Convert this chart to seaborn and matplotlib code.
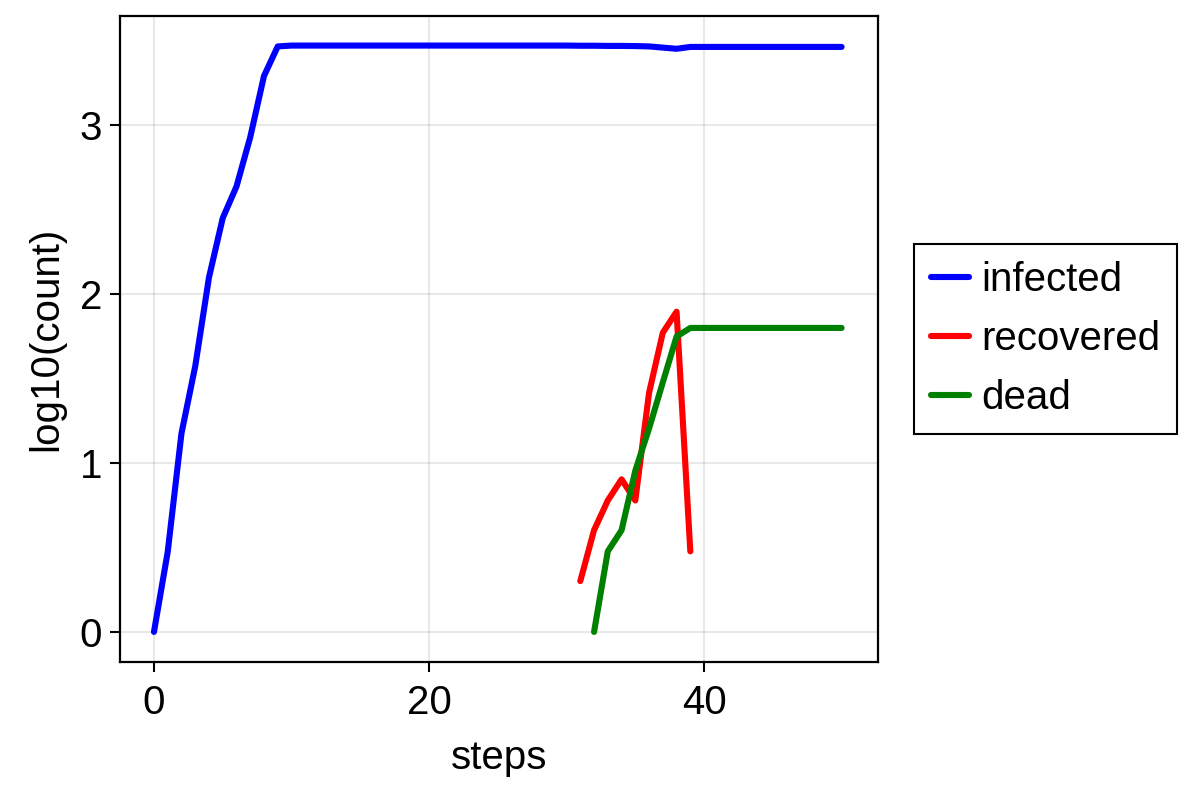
import numpy as np
import pandas as pd
import matplotlib
matplotlib.use("Agg")
import matplotlib.pyplot as plt
import seaborn as sns

# log10 of counts
infected_steps = list(range(0, 51))
infected = [0.0, 0.474, 1.175, 1.572, 2.098, 2.449, 2.636, 2.928, 3.29, 3.465,
            3.470, 3.470, 3.470, 3.470, 3.470, 3.470, 3.470, 3.470, 3.470, 3.470,
            3.470, 3.470, 3.470, 3.470, 3.470, 3.470, 3.470, 3.470, 3.470, 3.470,
            3.470, 3.469, 3.469, 3.468, 3.468, 3.467, 3.465, 3.458, 3.451, 3.462,
            3.462, 3.462, 3.462, 3.462, 3.462, 3.462, 3.462, 3.462, 3.462, 3.462,
            3.462]

recovered_steps = list(range(31, 40))
recovered = [0.301, 0.602, 0.778, 0.903, 0.778, 1.415, 1.771, 1.895, 0.477]

dead_steps = list(range(32, 51))
dead = [0.0, 0.477, 0.602, 0.954, 1.204, 1.477, 1.748, 1.799,
        1.799, 1.799, 1.799, 1.799, 1.799, 1.799, 1.799, 1.799, 1.799, 1.799, 1.799]

series_names = ["infected", "recovered", "dead"]
series_colors = ["blue", "red", "green"]

df = pd.concat([
    pd.DataFrame({"steps": infected_steps, "value": infected, "series": "infected"}),
    pd.DataFrame({"steps": recovered_steps, "value": recovered, "series": "recovered"}),
    pd.DataFrame({"steps": dead_steps, "value": dead, "series": "dead"}),
])

sns.set_theme(style="white")
plt.rcParams['font.family'] = ['Liberation Sans', 'DejaVu Sans']
plt.rcParams['text.color'] = 'black'
plt.rcParams['axes.labelcolor'] = 'black'
plt.rcParams['xtick.color'] = 'black'
plt.rcParams['ytick.color'] = 'black'

FS = 29
LW = 4.4

fig = plt.figure(figsize=(12, 8), dpi=100)
ax = fig.add_axes([0.1, 0.1725, 0.6317, 0.8075])

sns.lineplot(data=df, x="steps", y="value", hue="series", hue_order=series_names,
             palette=dict(zip(series_names, series_colors)), linewidth=LW,
             ax=ax, estimator=None, sort=False)

ax.set_xlim(-2.47, 52.65)
ax.set_ylim(-0.178, 3.645)
ax.set_xticks([0, 20, 40])
ax.set_yticks([0, 1, 2, 3])
ax.grid(True, color="#000000", alpha=0.09, linewidth=1.5)
for s in ax.spines.values():
    s.set_color("black")
    s.set_linewidth(1.6)
ax.tick_params(axis="both", which="major", labelsize=FS, length=7, width=1.5,
               color="black", labelcolor="black", direction="out",
               bottom=True, left=True)
ax.tick_params(axis="x", pad=9)
ax.tick_params(axis="y", pad=6)
ax.set_xlabel("steps", fontsize=FS, labelpad=12)
ax.set_ylabel("log10(count)", fontsize=FS, labelpad=10)

handles, labels = ax.get_legend_handles_labels()
leg = ax.legend(handles, labels, loc="center left", bbox_to_anchor=(1.047, 0.5),
                fontsize=FS, frameon=True, fancybox=False, edgecolor="black",
                framealpha=1.0, handlelength=0.95, handletextpad=0.3,
                labelspacing=0.52, borderpad=0.42, borderaxespad=0.0)
leg.get_frame().set_linewidth(1.5)
for line in leg.get_lines():
    line.set_linewidth(LW)

fig.savefig("out.png", dpi=100)
